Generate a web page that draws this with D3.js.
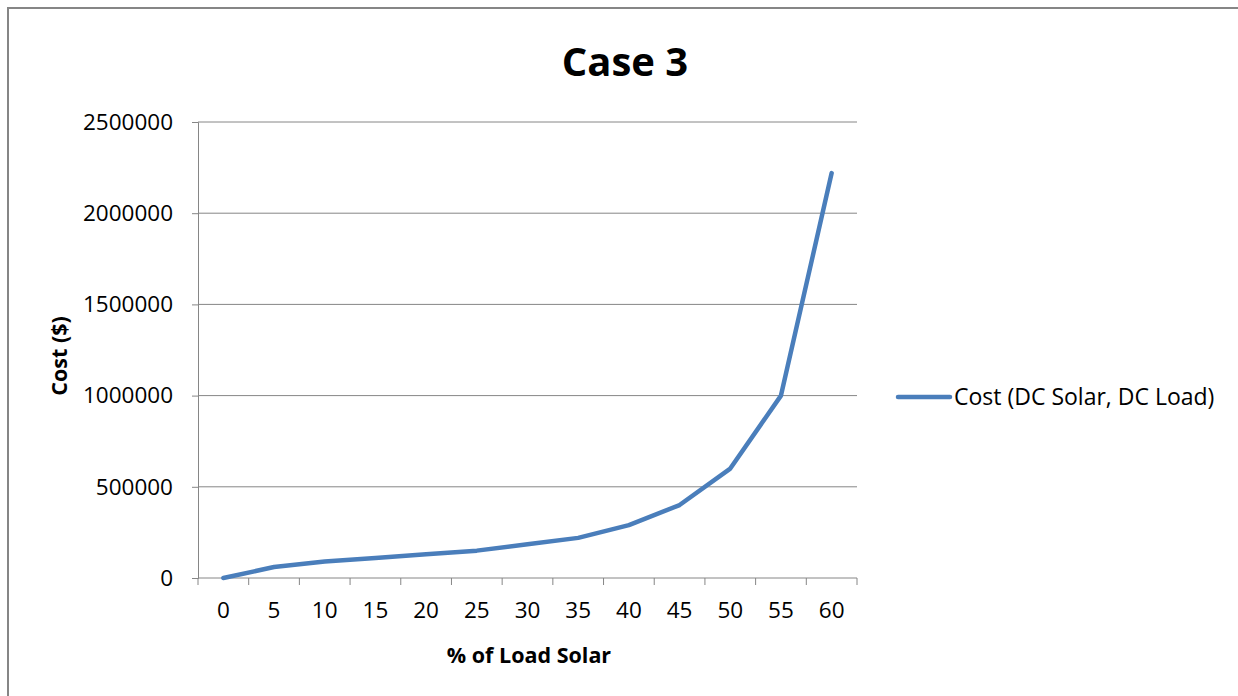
<!DOCTYPE html>
<html>
<head>
<meta charset="utf-8">
<script src="https://cdn.jsdelivr.net/npm/d3@7"></script>
<style>
  body { margin: 0; background: #fff; }
  text { font-family: "Open Sans", "Noto Sans", sans-serif; fill: #000; }
</style>
</head>
<body>
<div id="chart"></div>
<script>
// data
const loadSolar = ['0', '5', '10', '15', '20', '25', '30', '35', '40', '45', '50', '55', '60'];
const cost = [0, 60000, 90000, 110000, 130000, 150000, 185000, 220000, 290000, 400000, 600000, 1000000, 2220000];
const yTicks = [0, 500000, 1000000, 1500000, 2000000, 2500000];
const seriesName = 'Cost (DC Solar, DC Load)';

const width = 1238;
const height = 696;
const plot = {left: 198, right: 857, top: 122, bottom: 578};
const blue = '#4a7ebb';
const grey = '#868686';

const svg = d3.select('#chart')
    .append('svg')
        .attr('width', width)
        .attr('height', height);

// chart border
svg.append('rect')
    .attr('x', 8)
    .attr('y', 8)
    .attr('width', width + 20)
    .attr('height', height + 20)
    .attr('fill', 'none')
    .attr('stroke', grey)
    .attr('stroke-width', 2);

const xScale = d3.scaleBand()
    .domain(loadSolar)
    .range([plot.left, plot.right]);

const yScale = d3.scaleLinear()
    .domain([0, 2500000])
    .range([plot.bottom, plot.top]);

// gridlines
svg.append('g')
    .selectAll('line')
    .data(yTicks.slice(1))
    .enter()
        .append('line')
            .attr('x1', plot.left)
            .attr('x2', plot.right)
            .attr('y1', d => yScale(d))
            .attr('y2', d => yScale(d))
            .attr('stroke', grey)
            .attr('stroke-width', 1);

// y axis
const yAxis = svg.append('g')
    .attr('transform', `translate(${plot.left}, 0)`)
    .call(d3.axisLeft(yScale).tickValues(yTicks).tickSize(6).tickPadding(19).tickFormat(d3.format('d')));
yAxis.select('.domain').attr('stroke', grey);
yAxis.selectAll('.tick line').attr('stroke', grey);
yAxis.selectAll('.tick text')
    .attr('font-size', 22.5)
    .attr('font-family', '"Open Sans", sans-serif')
    .attr('fill', '#000');

// x axis, ticks sit on band edges like excel
const xAxis = svg.append('g')
    .attr('transform', `translate(0, ${plot.bottom})`)
    .call(d3.axisBottom(xScale).tickSize(0).tickPadding(24));
xAxis.select('.domain').attr('stroke', grey).attr('d', `M${plot.left},0H${plot.right}`);
xAxis.selectAll('.tick text')
    .attr('font-size', 22.5)
    .attr('font-family', '"Open Sans", sans-serif')
    .attr('fill', '#000');

const edges = loadSolar.map(d => xScale(d)).concat([plot.right]);
xAxis.selectAll('line.edge')
    .data(edges)
    .enter()
        .append('line')
            .attr('class', 'edge')
            .attr('x1', d => d)
            .attr('x2', d => d)
            .attr('y1', 0)
            .attr('y2', 7)
            .attr('stroke', grey);

// the series
const line = d3.line()
    .x((d, i) => xScale(loadSolar[i]) + xScale.bandwidth() / 2)
    .y(d => yScale(d));

svg.append('path')
    .datum(cost)
    .attr('d', line)
    .attr('fill', 'none')
    .attr('stroke', blue)
    .attr('stroke-width', 4.5)
    .attr('stroke-linejoin', 'round')
    .attr('stroke-linecap', 'round');

// title
svg.append('text')
    .attr('x', 625)
    .attr('y', 76)
    .attr('text-anchor', 'middle')
    .attr('font-size', 40)
    .attr('font-weight', 'bold')
    .text('Case 3');

// axis titles
svg.append('text')
    .attr('x', 529)
    .attr('y', 663)
    .attr('text-anchor', 'middle')
    .attr('font-size', 21.5)
    .attr('font-weight', 'bold')
    .text('% of Load Solar');

svg.append('text')
    .attr('transform', `translate(67, ${(plot.top + plot.bottom) / 2 + 6}) rotate(-90)`)
    .attr('text-anchor', 'middle')
    .attr('font-size', 21.5)
    .attr('font-weight', 'bold')
    .text('Cost ($)');

// legend
const legend = svg.append('g')
    .attr('transform', 'translate(898, 397)');
legend.append('line')
    .attr('x1', 0)
    .attr('x2', 52)
    .attr('stroke', blue)
    .attr('stroke-width', 4.5)
    .attr('stroke-linecap', 'round');
legend.append('text')
    .attr('x', 56)
    .attr('y', 8)
    .attr('font-size', 23)
    .text(seriesName);
</script>
</body>
</html>
